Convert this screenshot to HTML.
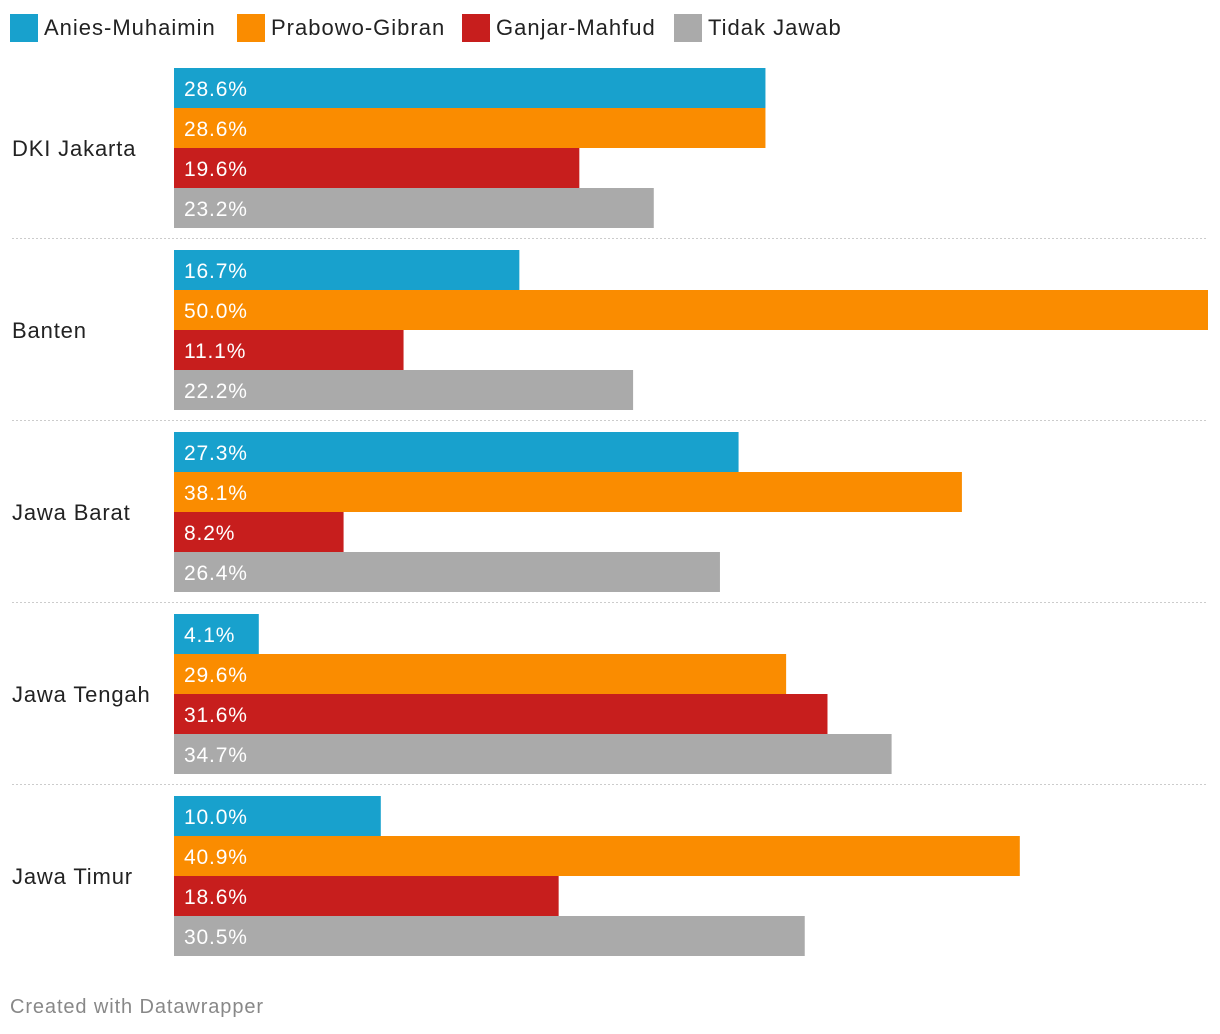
<!DOCTYPE html>
<html><head><meta charset="utf-8"><style>
body{margin:0;width:1220px;height:1034px;background:#fff;font-family:"Liberation Sans",sans-serif;overflow:hidden;position:relative}
.lg{position:absolute;top:12px;font-size:22px;color:#222;display:flex;align-items:center;height:32px;letter-spacing:1px}
.sw{width:28px;height:28px;margin-right:6px;display:inline-block}
svg text{letter-spacing:0.85px}
</style></head><body>
<div id="legend"></div>
<svg id="chart" width="1220" height="1034" style="position:absolute;left:0;top:0"></svg>
<div style="position:absolute;left:10px;top:996px;font-size:20px;color:#888;letter-spacing:0.9px">Created with Datawrapper</div>
<script>
const regions=["DKI Jakarta","Banten","Jawa Barat","Jawa Tengah","Jawa Timur"];
const seriesNames=["Anies-Muhaimin","Prabowo-Gibran","Ganjar-Mahfud","Tidak Jawab"];
const anies=[28.6,16.7,27.3,4.1,10.0];
const prabowo=[28.6,50.0,38.1,29.6,40.9];
const ganjar=[19.6,11.1,8.2,31.6,18.6];
const tidak=[23.2,22.2,26.4,34.7,30.5];
const colors=["#18a1cd","#fa8c00","#c71e1d","#aaaaaa"];
const series=[anies,prabowo,ganjar,tidak];
const x0=174,xMax=1208,maxV=50;
const xs=v=>(v/maxV)*(xMax-x0);
const top0=68,barH=40,groupStep=182;
const NS="http://www.w3.org/2000/svg";
const svg=document.getElementById('chart');
const lg=document.getElementById('legend');
const lgX=[10,237,462,674];
seriesNames.forEach((n,i)=>{
 const d=document.createElement('div');d.className='lg';d.style.left=lgX[i]+'px';
 
 
 d.innerHTML='<span class="sw" style="background:'+colors[i]+'"></span>'+n;
 lg.appendChild(d);
});
regions.forEach((r,g)=>{
 const gy=top0+g*groupStep;
 const t=document.createElementNS(NS,'text');
 t.setAttribute('x',12);t.setAttribute('y',gy+80+8);t.setAttribute('font-size','22');t.setAttribute('fill','#222');
 t.textContent=r;
 
 
 svg.appendChild(t);
 if(g>0){const l=document.createElementNS(NS,'line');
  l.setAttribute('x1',12);l.setAttribute('x2',1208);l.setAttribute('y1',gy-11.5);l.setAttribute('y2',gy-11.5);
  l.setAttribute('stroke','#ccc');l.setAttribute('stroke-dasharray','2,2');
  
  
  svg.appendChild(l);}
 series.forEach((s,i)=>{
  const y=gy+i*barH;
  const b=document.createElementNS(NS,'rect');
  b.setAttribute('x',x0);b.setAttribute('y',y);b.setAttribute('width',xs(s[g]));b.setAttribute('height',barH);b.setAttribute('fill',colors[i]);
  
  
  svg.appendChild(b);
  const v=document.createElementNS(NS,'text');
  v.setAttribute('x',x0+10);v.setAttribute('y',y+28);v.setAttribute('font-size','21');v.setAttribute('fill','#fff');
  v.textContent=s[g].toFixed(1)+'%';
  
  
  svg.appendChild(v);
 });
});
</script>
</body></html>
